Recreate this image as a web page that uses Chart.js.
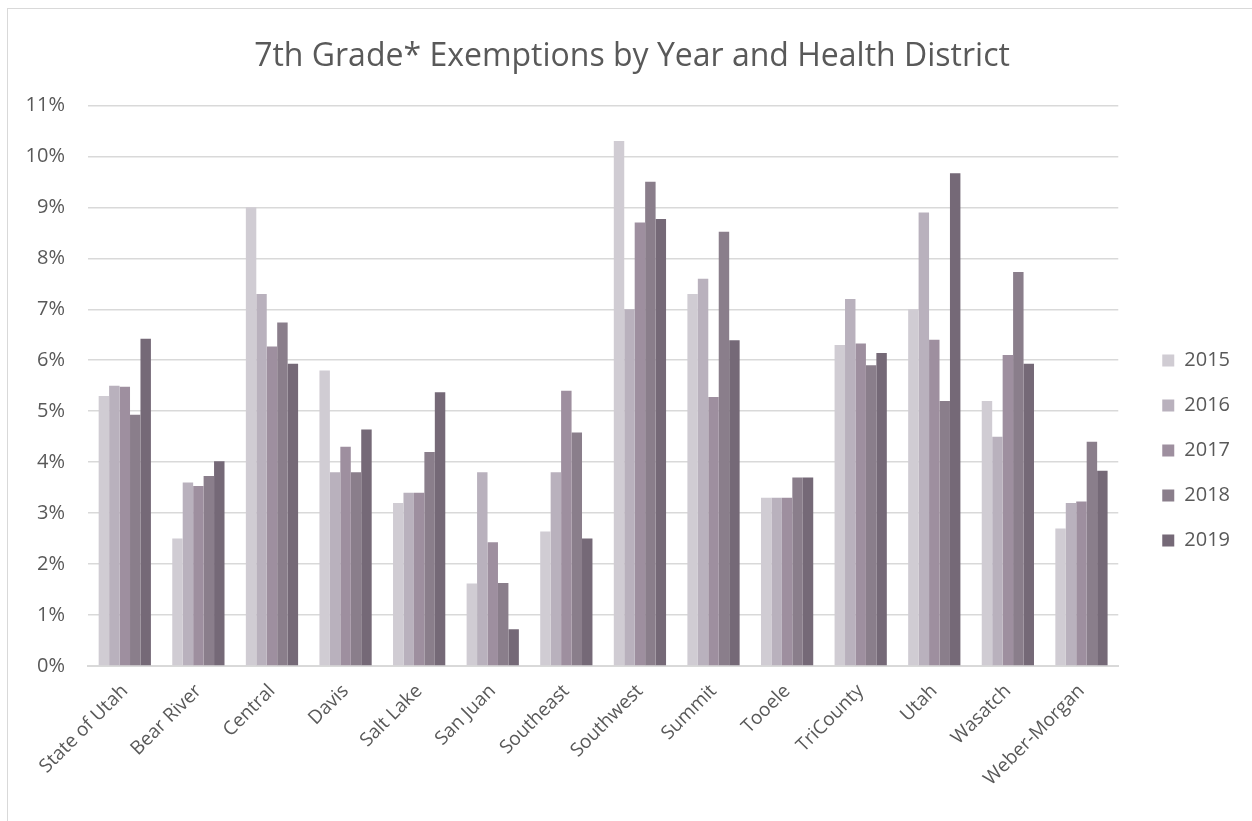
<!DOCTYPE html>
<html>
<head>
<meta charset="utf-8">
<script src="https://cdn.jsdelivr.net/npm/chart.js@4"></script>
<style>
  html, body { margin: 0; padding: 0; background: #fff; overflow: hidden; }
  #wrap { position: relative; width: 1252px; height: 821px; }
  #frame { position: absolute; left: 7px; top: 8px; width: 1300px; height: 900px; border: 1px solid #d9d9d9; }
  #chart { position: absolute; left: 0; top: 0; }
</style>
</head>
<body>
<div id="wrap">
  <div id="frame"></div>
  <canvas id="chart" width="1252" height="821"></canvas>
</div>
<script>
// 7th grade exemptions by year and health district (percent)
const districts = [
  "State of Utah", "Bear River", "Central", "Davis", "Salt Lake", "San Juan", "Southeast",
  "Southwest", "Summit", "Tooele", "TriCounty", "Utah", "Wasatch", "Weber-Morgan",
];
const years = ["2015", "2016", "2017", "2018", "2019"];

const y2015 = [5.3, 2.5, 9.0, 5.8, 3.2, 1.62, 2.64, 10.3, 7.3, 3.3, 6.3, 7.0, 5.2, 2.7];
const y2016 = [5.5, 3.6, 7.3, 3.8, 3.4, 3.8, 3.8, 7.0, 7.6, 3.3, 7.2, 8.9, 4.5, 3.2];
const y2017 = [5.48, 3.53, 6.27, 4.3, 3.4, 2.43, 5.4, 8.7, 5.28, 3.3, 6.33, 6.4, 6.1, 3.23];
const y2018 = [4.93, 3.73, 6.74, 3.8, 4.2, 1.63, 4.58, 9.5, 8.52, 3.7, 5.9, 5.2, 7.73, 4.4];
const y2019 = [6.42, 4.02, 5.93, 4.64, 5.37, 0.72, 2.5, 8.77, 6.39, 3.7, 6.14, 9.67, 5.93, 3.83];

const colors = ["#D0CCD3", "#B9B1BD", "#9E8F9F", "#8A7E8B", "#756977"];
const series = [y2015, y2016, y2017, y2018, y2019];

const textColor = "#595959";
const gridColor = "#d9d9d9";
const LEGEND_EXTRA = 31; // extra legend width, pulls plot area in
const LEGEND_SHIFT = 19; // move legend right, away from plot area
const LEGEND_DROP = 40;  // move legend down

// ── nudge the legend box ───────────────────────────────────
const legendNudge = {
  id: "legendNudge",
  beforeLayout(chart) {
    const legend = chart.legend;
    if (!legend || legend._nudged) return;
    const fit = legend.fit;
    legend.fit = function () {
      fit.call(this);
      this.width += LEGEND_EXTRA;
    };
    legend._nudged = true;
  },
  afterLayout(chart) {
    const legend = chart.legend;
    if (!legend) return;
    legend.left += LEGEND_SHIFT;
    legend.right += LEGEND_SHIFT;
    legend.top += LEGEND_DROP;
    legend.bottom += LEGEND_DROP;
  },
};

new Chart(document.getElementById("chart"), {
  type: "bar",
  data: {
    labels: districts,
    datasets: years.map((year, i) => ({
      label: year,
      data: series[i],
      backgroundColor: colors[i],
      borderWidth: 0,
      barPercentage: 1.0,
      categoryPercentage: 0.71,
    })),
  },
  plugins: [legendNudge],
  options: {
    responsive: false,
    devicePixelRatio: 1,
    animation: false,
    layout: { padding: { left: 12, right: 0, top: 0, bottom: 0 } },
    plugins: {
      title: {
        display: true,
        text: "7th Grade* Exemptions by Year and Health District",
        color: textColor,
        font: { family: "Open Sans", size: 32, weight: "normal" },
        padding: { top: 38, bottom: 29 },
      },
      legend: {
        position: "right",
        labels: {
          color: textColor,
          font: { family: "Open Sans", size: 20 },
          boxWidth: 12,
          boxHeight: 12,
          padding: 25,
        },
      },
      tooltip: { enabled: false },
    },
    scales: {
      x: {
        grid: { display: false },
        border: { display: true, color: gridColor, width: 2 },
        ticks: {
          color: textColor,
          font: { family: "Open Sans", size: 19 },
          minRotation: 45,
          maxRotation: 45,
          padding: 6,
          autoSkip: false,
        },
        afterFit(scale) {
          scale.height = 155;
        },
      },
      y: {
        min: 0,
        max: 11,
        grid: { color: gridColor, lineWidth: 1.5, drawTicks: false },
        border: { display: false },
        ticks: {
          stepSize: 1,
          color: textColor,
          font: { family: "Open Sans", size: 20 },
          padding: 23,
          callback: (value) => value + "%",
        },
        afterFit(scale) {
          scale.width = 76;
        },
      },
    },
  },
});
</script>
</body>
</html>
